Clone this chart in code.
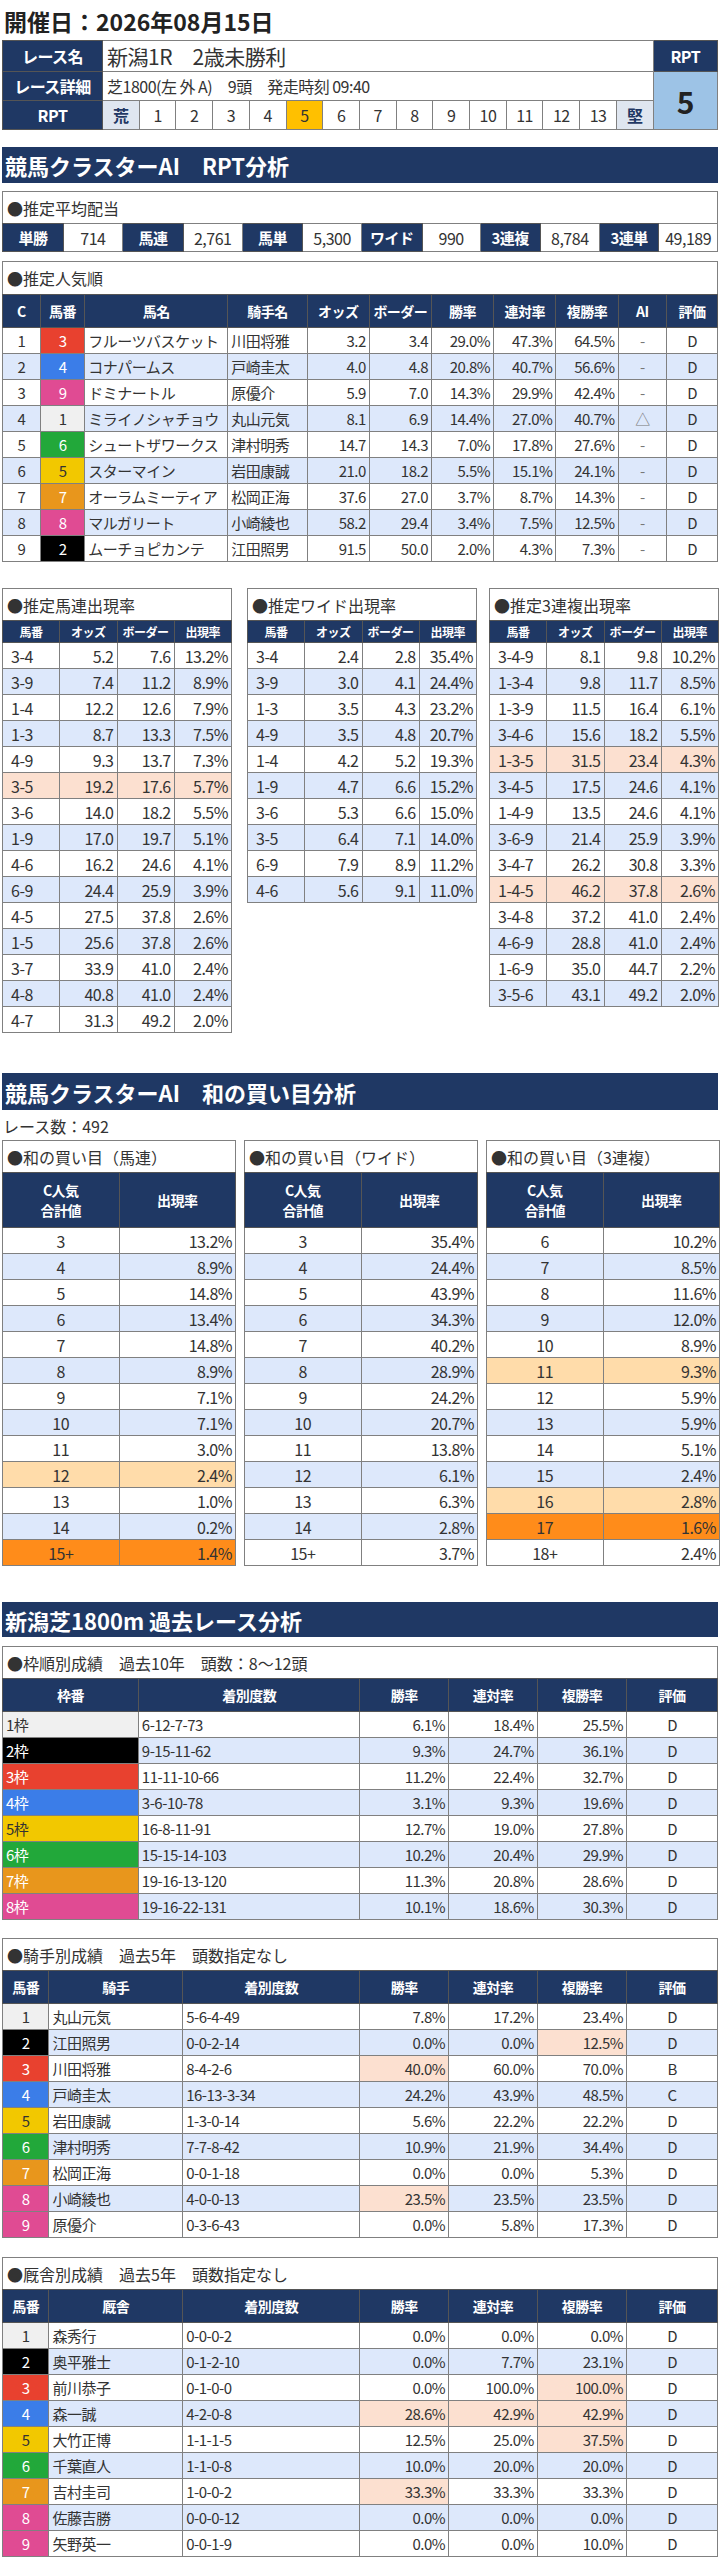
<!DOCTYPE html>
<html lang="ja">
<head>
<meta charset="utf-8">
<script src="https://cdn.jsdelivr.net/npm/chart.js@4.4.1/dist/chart.umd.min.js"></script>
<style>
body { margin: 0; background: #fff; font-family: "Noto Sans CJK JP", "Noto Sans", sans-serif; color: #333; }
#page { position: relative; width: 716px; margin: 0 2px; }
.blk { position: absolute; left: 0; }
table { border-collapse: collapse; table-layout: fixed; width: 100%; }
td { border: 1px solid #808080; padding: 0 3px; font-size: 15px; white-space: nowrap; overflow: hidden; box-sizing: border-box; letter-spacing: -0.5px; }
th { background: #1f3864; color: #fff; font-weight: bold; font-size: 14px; border: 1px solid #555; padding: 0 2px; letter-spacing: -0.5px; }
.box { border: 1px solid #808080; border-bottom: none; box-sizing: border-box; font-size: 16px; padding-left: 4px; display: flex; align-items: center; background: #fff; }
.sec { background: #1f3864; color: #fff; font-weight: bold; font-size: 22px; display: flex; align-items: center; padding-left: 3px; box-sizing: border-box; }
.r { text-align: right; } .c { text-align: center; } .l { text-align: left; }
.alt td { background: #dde8fb; }
td.pe { background: #fce0d0 !important; }
td.lo { background: #ffdcaa !important; }
td.or { background: #ff8c1a !important; }
</style>
</head>
<body>
<div id="page"></div>
<script>
// ---- race info ----
const raceDate = '開催日：2026年08月15日';
const raceName = '新潟1R　2歳未勝利';
const raceDetail = '芝1800(左 外 A)　9頭　発走時刻 09:40';
const rptScale = ['荒', '1', '2', '3', '4', '5', '6', '7', '8', '9', '10', '11', '12', '13', '堅'];
const rptValue = 5;

// ---- payouts ----
const payoutLabels = ['単勝', '馬連', '馬単', 'ワイド', '3連複', '3連単'];
const payoutValues = ['714', '2,761', '5,300', '990', '8,784', '49,189'];

// ---- popularity ----
const popRank = [1, 2, 3, 4, 5, 6, 7, 8, 9];
const popNum = [3, 4, 9, 1, 6, 5, 7, 8, 2];
const popName = ['フルーツバスケット', 'コナパームス', 'ドミナートル', 'ミライノシャチョウ', 'シュートザワークス', 'スターマイン', 'オーラムミーティア', 'マルガリート', 'ムーチョピカンテ'];
const popJockey = ['川田将雅', '戸崎圭太', '原優介', '丸山元気', '津村明秀', '岩田康誠', '松岡正海', '小崎綾也', '江田照男'];
const popOdds = ['3.2', '4.0', '5.9', '8.1', '14.7', '21.0', '37.6', '58.2', '91.5'];
const popBorder = ['3.4', '4.8', '7.0', '6.9', '14.3', '18.2', '27.0', '29.4', '50.0'];
const popWin = ['29.0%', '20.8%', '14.3%', '14.4%', '7.0%', '5.5%', '3.7%', '3.4%', '2.0%'];
const popRen = ['47.3%', '40.7%', '29.9%', '27.0%', '17.8%', '15.1%', '8.7%', '7.5%', '4.3%'];
const popFuku = ['64.5%', '56.6%', '42.4%', '40.7%', '27.6%', '24.1%', '14.3%', '12.5%', '7.3%'];
const popAI = ['-', '-', '-', '△', '-', '-', '-', '-', '-'];
const popEval = ['D', 'D', 'D', 'D', 'D', 'D', 'D', 'D', 'D'];

// ---- combination rates ----
const umarenKeys = ['3-4', '3-9', '1-4', '1-3', '4-9', '3-5', '3-6', '1-9', '4-6', '6-9', '4-5', '1-5', '3-7', '4-8', '4-7'];
const umarenOdds = ['5.2', '7.4', '12.2', '8.7', '9.3', '19.2', '14.0', '17.0', '16.2', '24.4', '27.5', '25.6', '33.9', '40.8', '31.3'];
const umarenBorder = ['7.6', '11.2', '12.6', '13.3', '13.7', '17.6', '18.2', '19.7', '24.6', '25.9', '37.8', '37.8', '41.0', '41.0', '49.2'];
const umarenRate = ['13.2%', '8.9%', '7.9%', '7.5%', '7.3%', '5.7%', '5.5%', '5.1%', '4.1%', '3.9%', '2.6%', '2.6%', '2.4%', '2.4%', '2.0%'];
const umarenHi = [5];
const wideKeys = ['3-4', '3-9', '1-3', '4-9', '1-4', '1-9', '3-6', '3-5', '6-9', '4-6'];
const wideOdds = ['2.4', '3.0', '3.5', '3.5', '4.2', '4.7', '5.3', '6.4', '7.9', '5.6'];
const wideBorder = ['2.8', '4.1', '4.3', '4.8', '5.2', '6.6', '6.6', '7.1', '8.9', '9.1'];
const wideRate = ['35.4%', '24.4%', '23.2%', '20.7%', '19.3%', '15.2%', '15.0%', '14.0%', '11.2%', '11.0%'];
const trioKeys = ['3-4-9', '1-3-4', '1-3-9', '3-4-6', '1-3-5', '3-4-5', '1-4-9', '3-6-9', '3-4-7', '1-4-5', '3-4-8', '4-6-9', '1-6-9', '3-5-6'];
const trioOdds = ['8.1', '9.8', '11.5', '15.6', '31.5', '17.5', '13.5', '21.4', '26.2', '46.2', '37.2', '28.8', '35.0', '43.1'];
const trioBorder = ['9.8', '11.7', '16.4', '18.2', '23.4', '24.6', '24.6', '25.9', '30.8', '37.8', '41.0', '41.0', '44.7', '49.2'];
const trioRate = ['10.2%', '8.5%', '6.1%', '5.5%', '4.3%', '4.1%', '4.1%', '3.9%', '3.3%', '2.6%', '2.4%', '2.4%', '2.2%', '2.0%'];
const trioHi = [4, 9];

// ---- sum of popularity ----
const raceCount = 492;
const sumUmarenKeys = ['3', '4', '5', '6', '7', '8', '9', '10', '11', '12', '13', '14', '15+'];
const sumUmarenRate = ['13.2%', '8.9%', '14.8%', '13.4%', '14.8%', '8.9%', '7.1%', '7.1%', '3.0%', '2.4%', '1.0%', '0.2%', '1.4%'];
const sumUmarenMark = { 9: 'lo', 12: 'or' };
const sumWideKeys = ['3', '4', '5', '6', '7', '8', '9', '10', '11', '12', '13', '14', '15+'];
const sumWideRate = ['35.4%', '24.4%', '43.9%', '34.3%', '40.2%', '28.9%', '24.2%', '20.7%', '13.8%', '6.1%', '6.3%', '2.8%', '3.7%'];
const sumWideMark = {};
const sumTrioKeys = ['6', '7', '8', '9', '10', '11', '12', '13', '14', '15', '16', '17', '18+'];
const sumTrioRate = ['10.2%', '8.5%', '11.6%', '12.0%', '8.9%', '9.3%', '5.9%', '5.9%', '5.1%', '2.4%', '2.8%', '1.6%', '2.4%'];
const sumTrioMark = { 5: 'lo', 10: 'lo', 11: 'or' };

// ---- past races ----
const gateLabels = ['1枠', '2枠', '3枠', '4枠', '5枠', '6枠', '7枠', '8枠'];
const gateRecord = ['6-12-7-73', '9-15-11-62', '11-11-10-66', '3-6-10-78', '16-8-11-91', '15-15-14-103', '19-16-13-120', '19-16-22-131'];
const gateWin = ['6.1%', '9.3%', '11.2%', '3.1%', '12.7%', '10.2%', '11.3%', '10.1%'];
const gateRen = ['18.4%', '24.7%', '22.4%', '9.3%', '19.0%', '20.4%', '20.8%', '18.6%'];
const gateFuku = ['25.5%', '36.1%', '32.7%', '19.6%', '27.8%', '29.9%', '28.6%', '30.3%'];
const gateEval = ['D', 'D', 'D', 'D', 'D', 'D', 'D', 'D'];

const jkNum = [1, 2, 3, 4, 5, 6, 7, 8, 9];
const jkName = ['丸山元気', '江田照男', '川田将雅', '戸崎圭太', '岩田康誠', '津村明秀', '松岡正海', '小崎綾也', '原優介'];
const jkRecord = ['5-6-4-49', '0-0-2-14', '8-4-2-6', '16-13-3-34', '1-3-0-14', '7-7-8-42', '0-0-1-18', '4-0-0-13', '0-3-6-43'];
const jkWin = ['7.8%', '0.0%', '40.0%', '24.2%', '5.6%', '10.9%', '0.0%', '23.5%', '0.0%'];
const jkRen = ['17.2%', '0.0%', '60.0%', '43.9%', '22.2%', '21.9%', '0.0%', '23.5%', '5.8%'];
const jkFuku = ['23.4%', '12.5%', '70.0%', '48.5%', '22.2%', '34.4%', '5.3%', '23.5%', '17.3%'];
const jkEval = ['D', 'D', 'B', 'C', 'D', 'D', 'D', 'D', 'D'];
const jkPeach = [[1, 5], [2, 3], [7, 3]];

const stName = ['森秀行', '奥平雅士', '前川恭子', '森一誠', '大竹正博', '千葉直人', '吉村圭司', '佐藤吉勝', '矢野英一'];
const stRecord = ['0-0-0-2', '0-1-2-10', '0-1-0-0', '4-2-0-8', '1-1-1-5', '1-1-0-8', '1-0-0-2', '0-0-0-12', '0-0-1-9'];
const stWin = ['0.0%', '0.0%', '0.0%', '28.6%', '12.5%', '10.0%', '33.3%', '0.0%', '0.0%'];
const stRen = ['0.0%', '7.7%', '100.0%', '42.9%', '25.0%', '20.0%', '33.3%', '0.0%', '0.0%'];
const stFuku = ['0.0%', '23.1%', '100.0%', '42.9%', '37.5%', '20.0%', '33.3%', '0.0%', '10.0%'];
const stEval = ['D', 'D', 'D', 'D', 'D', 'D', 'D', 'D', 'D'];
const stPeach = [[2, 5], [3, 3], [3, 4], [3, 5], [4, 5], [6, 3]];

// frame colours by horse number
const frameBg = { 1: '#f0f0f0', 2: '#000', 3: '#e8412f', 4: '#3b7de8', 5: '#f2c800', 6: '#22a83a', 7: '#e8961c', 8: '#e04b93', 9: '#e04b93' };
const frameFg = { 1: '#333', 5: '#333' };
const gateBg = ['#f0f0f0', '#000', '#e8412f', '#3b7de8', '#f2c800', '#22a83a', '#e8961c', '#e04b93'];

const page = document.getElementById('page');
page.style.height = '2560px';

function place(el, top, left, width) {
  el.classList.add('blk');
  el.style.top = top + 'px';
  el.style.left = (left || 0) + 'px';
  el.style.width = (width || 716) + 'px';
  page.appendChild(el);
  return el;
}
function div(cls, text, h) {
  const d = document.createElement('div');
  d.className = cls;
  d.textContent = text;
  if (h) d.style.height = h + 'px';
  return d;
}
// build a table: cols = fractions, header = [[text...]] , rows = [[{t,cls,bg,fg}]]
function table(cols, header, headH, rows, rowH, zebra) {
  const t = document.createElement('table');
  const cg = document.createElement('colgroup');
  cols.forEach(f => { const c = document.createElement('col'); c.style.width = (f * 100) + '%'; cg.appendChild(c); });
  t.appendChild(cg);
  if (header) {
    const tr = document.createElement('tr');
    tr.style.height = headH + 'px';
    header.forEach(h => { const th = document.createElement('th'); th.innerHTML = h; tr.appendChild(th); });
    t.appendChild(tr);
  }
  rows.forEach((r, i) => {
    const tr = document.createElement('tr');
    tr.style.height = rowH + 'px';
    if (zebra && i % 2 === 1) tr.className = 'alt';
    r.forEach(cell => {
      const td = document.createElement('td');
      td.textContent = cell.t;
      td.className = cell.c || 'c';
      if (cell.bg) td.style.setProperty('background', cell.bg, 'important');
      if (cell.fg) td.style.color = cell.fg;
      tr.appendChild(td);
    });
    t.appendChild(tr);
  });
  return t;
}
function numCell(n) { return { t: String(n), c: 'c', bg: frameBg[n], fg: frameFg[n] || '#fff' }; }

// title
const ttl = div('', raceDate);
ttl.style.cssText = 'font-size:23px;font-weight:bold;color:#222;';
place(ttl, 4, 2, 700);

// race info table
const info = document.createElement('table');
info.innerHTML = '<colgroup><col style="width:14%">' + rptScale.map(() => '<col style="width:5.14%">').join('') + '<col style="width:9%"></colgroup>';
const tr1 = document.createElement('tr'); tr1.style.height = '29px';
tr1.innerHTML = '<th style="font-size:16px">レース名</th><td colspan="15" style="font-size:21px;padding-left:4px">' + raceName + '</td><th style="font-size:16px">RPT</th>';
const tr2 = document.createElement('tr'); tr2.style.height = '29px';
tr2.innerHTML = '<th style="font-size:16px">レース詳細</th><td colspan="15" style="font-size:16px;padding-left:4px">' + raceDetail + '</td><td rowspan="2" class="c" style="background:#9dc3e6;font-size:30px;font-weight:bold;color:#222">' + rptValue + '</td>';
const tr3 = document.createElement('tr'); tr3.style.height = '29px';
tr3.innerHTML = '<th style="font-size:16px">RPT</th>' + rptScale.map((s, i) => {
  const edge = i === 0 || i === rptScale.length - 1;
  const bg = s === String(rptValue) ? '#ffc000' : (edge ? '#dfe6f0' : '#fff');
  return '<td class="c" style="font-size:16px;background:' + bg + ';' + (edge ? 'color:#1f3864;font-weight:bold' : '') + '">' + s + '</td>';
}).join('');
info.appendChild(tr1); info.appendChild(tr2); info.appendChild(tr3);
place(info, 40, 0);

// section 1
place(div('sec', '競馬クラスターAI　RPT分析', 36), 147, 0);

place(div('box', '●推定平均配当', 32), 191, 0);
const pay = document.createElement('table');
const ptr = document.createElement('tr'); ptr.style.height = '28px';
payoutLabels.forEach((l, i) => {
  ptr.innerHTML += '<th style="font-size:15px">' + l + '</th><td class="c" style="font-size:16px">' + payoutValues[i] + '</td>';
});
pay.innerHTML = '<colgroup>' + [.085, .083, .085, .082, .085, .082, .085, .081, .084, .083, .083, .082].map(f => '<col style="width:' + f * 100 + '%">').join('') + '</colgroup>';
pay.appendChild(ptr);
place(pay, 223, 0);

place(div('box', '●推定人気順', 33), 261, 0);
const popRows = popRank.map((r, i) => [
  { t: r }, numCell(popNum[i]), { t: popName[i], c: 'l' }, { t: popJockey[i], c: 'l' },
  { t: popOdds[i], c: 'r' }, { t: popBorder[i], c: 'r' }, { t: popWin[i], c: 'r' },
  { t: popRen[i], c: 'r' }, { t: popFuku[i], c: 'r' }, { t: popAI[i], fg: '#777' }, { t: popEval[i] }
]);
place(table([.053, .062, .2, .111, .087, .087, .087, .087, .087, .068, .071],
  ['C', '馬番', '馬名', '騎手名', 'オッズ', 'ボーダー', '勝率', '連対率', '複勝率', 'AI', '評価'], 33, popRows, 26, true), 294, 0);

// combination tables
function comboTable(left, title, keys, odds, border, rate, hi) {
  place(div('box', title, 32), 588, left, 230);
  const rows = keys.map((k, i) => {
    const p = hi.includes(i) ? 'pe' : '';
    return [{ t: k, c: 'l ' + p }, { t: odds[i], c: 'r ' + p }, { t: border[i], c: 'r ' + p }, { t: rate[i], c: 'r ' + p }];
  });
  const t = table([.25, .25, .25, .25], ['馬番', 'オッズ', 'ボーダー', '出現率'], 22, rows, 26, true);
  t.querySelectorAll('th').forEach(th => th.style.fontSize = '12px');
  t.querySelectorAll('td').forEach(td => { td.style.fontSize = '16px'; td.style.paddingLeft = '8px'; });
  place(t, 620, left, 230);
}
comboTable(0, '●推定馬連出現率', umarenKeys, umarenOdds, umarenBorder, umarenRate, umarenHi);
comboTable(245, '●推定ワイド出現率', wideKeys, wideOdds, wideBorder, wideRate, []);
comboTable(487, '●推定3連複出現率', trioKeys, trioOdds, trioBorder, trioRate, trioHi);

// section 2
place(div('sec', '競馬クラスターAI　和の買い目分析', 37), 1073, 0);
const rc = div('', 'レース数：' + raceCount);
rc.style.fontSize = '16px';
place(rc, 1114, 1, 300);
function sumTable(left, title, keys, rate, mark) {
  place(div('box', title, 32), 1140, left, 234);
  const rows = keys.map((k, i) => {
    const m = mark[i] || '';
    return [{ t: k, c: 'c ' + m }, { t: rate[i], c: 'r ' + m }];
  });
  const t = table([.5, .5], ['C人気<br>合計値', '出現率'], 55, rows, 26, true);
  t.querySelectorAll('td').forEach(td => td.style.fontSize = '16px');
  place(t, 1172, left, 234);
}
sumTable(0, '●和の買い目（馬連）', sumUmarenKeys, sumUmarenRate, sumUmarenMark);
sumTable(242, '●和の買い目（ワイド）', sumWideKeys, sumWideRate, sumWideMark);
sumTable(484, '●和の買い目（3連複）', sumTrioKeys, sumTrioRate, sumTrioMark);

// section 3
place(div('sec', '新潟芝1800m 過去レース分析', 35), 1602, 0);
place(div('box', '●枠順別成績　過去10年　頭数：8〜12頭', 32), 1646, 0);
const gateRows = gateLabels.map((g, i) => [
  { t: g, c: 'l', bg: gateBg[i], fg: (i === 0 || i === 4) ? '#333' : '#fff' },
  { t: gateRecord[i], c: 'l' }, { t: gateWin[i], c: 'r' }, { t: gateRen[i], c: 'r' },
  { t: gateFuku[i], c: 'r' }, { t: gateEval[i] }
]);
place(table([.19, .31, .124, .124, .125, .127], ['枠番', '着別度数', '勝率', '連対率', '複勝率', '評価'], 33, gateRows, 26, true), 1678, 0);

function pastTable(top, title, head, names, rec, win, ren, fuku, ev, peach) {
  place(div('box', title, 32), top, 0);
  const rows = names.map((n, i) => [
    numCell(jkNum[i]), { t: n, c: 'l' }, { t: rec[i], c: 'l' },
    { t: win[i], c: 'r' }, { t: ren[i], c: 'r' }, { t: fuku[i], c: 'r' }, { t: ev[i] }
  ]);
  peach.forEach(([r, c]) => { rows[r][c].c += ' pe'; });
  place(table([.065, .187, .248, .124, .124, .125, .127], head, 33, rows, 26, true), top + 32, 0);
}
pastTable(1938, '●騎手別成績　過去5年　頭数指定なし', ['馬番', '騎手', '着別度数', '勝率', '連対率', '複勝率', '評価'],
  jkName, jkRecord, jkWin, jkRen, jkFuku, jkEval, jkPeach);
pastTable(2257, '●厩舎別成績　過去5年　頭数指定なし', ['馬番', '厩舎', '着別度数', '勝率', '連対率', '複勝率', '評価'],
  stName, stRecord, stWin, stRen, stFuku, stEval, stPeach);
</script>
</body>
</html>
